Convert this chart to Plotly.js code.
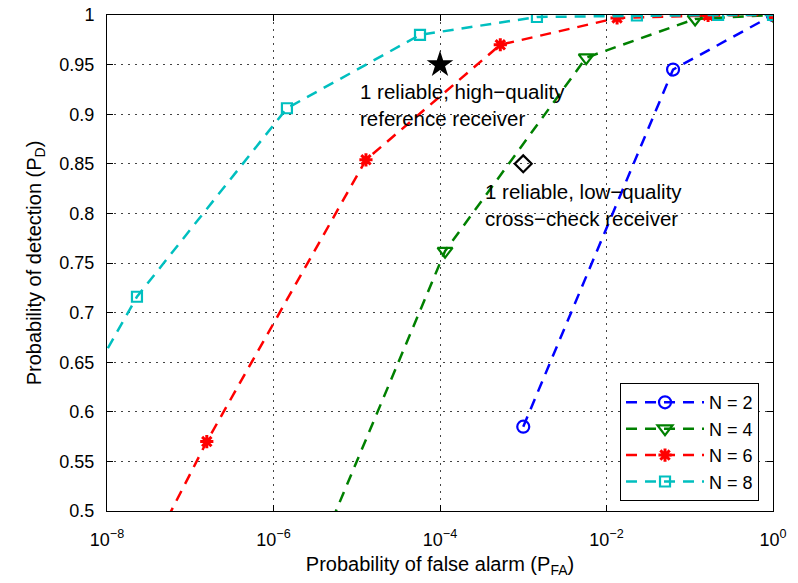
<!DOCTYPE html>
<html>
<head>
<meta charset="utf-8">
<script src="https://cdn.plot.ly/plotly-3.0.1.min.js"></script>
<style>html,body{margin:0;padding:0;background:#fff;}#chart{width:798px;height:583px;}</style>
</head>
<body>
<div id="chart"></div>
<script>
// Data (PFA, PD)
const n2_pfa = [1e-3, 0.063, 1];
const n2_pd  = [0.585, 0.945, 1];

const n4_pfa = [1e-6, 1.15e-4, 5.7e-3, 0.116, 1];
const n4_pd  = [0.35, 0.762, 0.957, 0.996, 1];

const n6_pfa = [1e-8, 1.58e-7, 1.29e-5, 5.3e-4, 0.0134, 0.166, 1];
const n6_pd  = [0.374, 0.570, 0.854, 0.970, 0.997, 0.9995, 1];

const n8_pfa = [1e-9, 2.29e-8, 1.45e-6, 5.75e-5, 1.46e-3, 0.0232, 0.219, 1];
const n8_pd  = [0.514, 0.716, 0.906, 0.980, 0.998, 0.9995, 1, 1];

const ref_pfa = [1e-4];  const ref_pd = [0.95];   // high-quality reference receiver
const cc_pfa  = [1e-3];  const cc_pd  = [0.85];   // low-quality cross-check receiver

const seriesNames = ['N = 2', 'N = 4', 'N = 6', 'N = 8'];
const xTickVals = [1e-8, 1e-6, 1e-4, 1e-2, 1];
const xTickText = ['10<sup>−8</sup>', '10<sup>−6</sup>', '10<sup>−4</sup>', '10<sup>−2</sup>', '10<sup>0</sup>'];
const annoRef = '1 reliable, high−quality<br>reference receiver';
const annoCC  = '1 reliable, low−quality<br>cross−check receiver';

const FONT = 'Liberation Sans, Arial, Helvetica, sans-serif';
const DASH = '11px,8px';

function curve(x, y, name, color, symbol, size, lw) {
  return {
    x: x, y: y, name: name, type: 'scatter', mode: 'lines+markers',
    line: {color: color, width: 2.5, dash: DASH},
    marker: {symbol: symbol, size: size, color: color, line: {color: color, width: lw}},
    cliponaxis: true
  };
}

const traces = [
  curve(n2_pfa, n2_pd, seriesNames[0], '#0000ff', 'circle-open', 12, 2.2),
  curve(n4_pfa, n4_pd, seriesNames[1], '#008000', 'triangle-down-open', 13, 2.2),
  curve(n6_pfa, n6_pd, seriesNames[2], '#ff0000', 'asterisk-open', 11, 3),
  curve(n8_pfa, n8_pd, seriesNames[3], '#00bfbf', 'square-open', 10, 2.2),
  {x: ref_pfa, y: ref_pd, type: 'scatter', mode: 'markers', showlegend: false,
   marker: {symbol: 'star', size: 20, color: '#000'}},
  {x: cc_pfa, y: cc_pd, type: 'scatter', mode: 'markers', showlegend: false,
   marker: {symbol: 'diamond-open', size: 13, color: '#000', line: {color: '#000', width: 2.2}}}
];

const axisCommon = {
  showline: true, linecolor: '#000', linewidth: 1, mirror: 'ticks',
  ticks: 'inside', ticklen: 6, tickcolor: '#000', tickwidth: 1,
  showgrid: true, gridcolor: '#444', gridwidth: 1, griddash: '2px,5px',
  zeroline: false, tickfont: {family: FONT, size: 18, color: '#000'}
};

const layout = {
  width: 798, height: 583,
  margin: {l: 107, r: 25, t: 15, b: 72},
  paper_bgcolor: '#fff', plot_bgcolor: '#fff',
  font: {family: FONT, color: '#000'},
  xaxis: Object.assign({}, axisCommon, {
    type: 'log', range: [-8, 0], tickmode: 'array', tickvals: xTickVals, ticktext: xTickText,
    ticklabelstandoff: 12,
    title: {text: 'Probability of false alarm (P<sub>FA</sub>)', font: {family: FONT, size: 20}, standoff: 8}
  }),
  yaxis: Object.assign({}, axisCommon, {
    range: [0.5, 1], tick0: 0.5, dtick: 0.05, ticklabelstandoff: 8,
    title: {text: 'Probability of detection (P<sub>D</sub>)', font: {family: FONT, size: 20}, standoff: 12}
  }),
  legend: {
    x: 0.979, y: 0.02, xanchor: 'right', yanchor: 'bottom',
    bgcolor: '#fff', bordercolor: '#000', borderwidth: 1,
    font: {family: FONT, size: 18, color: '#000'}, itemwidth: 78, tracegroupgap: 0
  },
  annotations: [
    {xref: 'x', yref: 'y', x: -4.99, y: 0.909, text: annoRef, showarrow: false,
     xanchor: 'left', yanchor: 'middle', align: 'left', font: {family: FONT, size: 20.5, color: '#000'}},
    {xref: 'x', yref: 'y', x: -3.48, y: 0.8085, text: annoCC, showarrow: false,
     xanchor: 'left', yanchor: 'middle', align: 'left', font: {family: FONT, size: 20.5, color: '#000'}}
  ],
  showlegend: true
};

Plotly.newPlot('chart', traces, layout, {staticPlot: true, displayModeBar: false});
</script>
</body>
</html>
